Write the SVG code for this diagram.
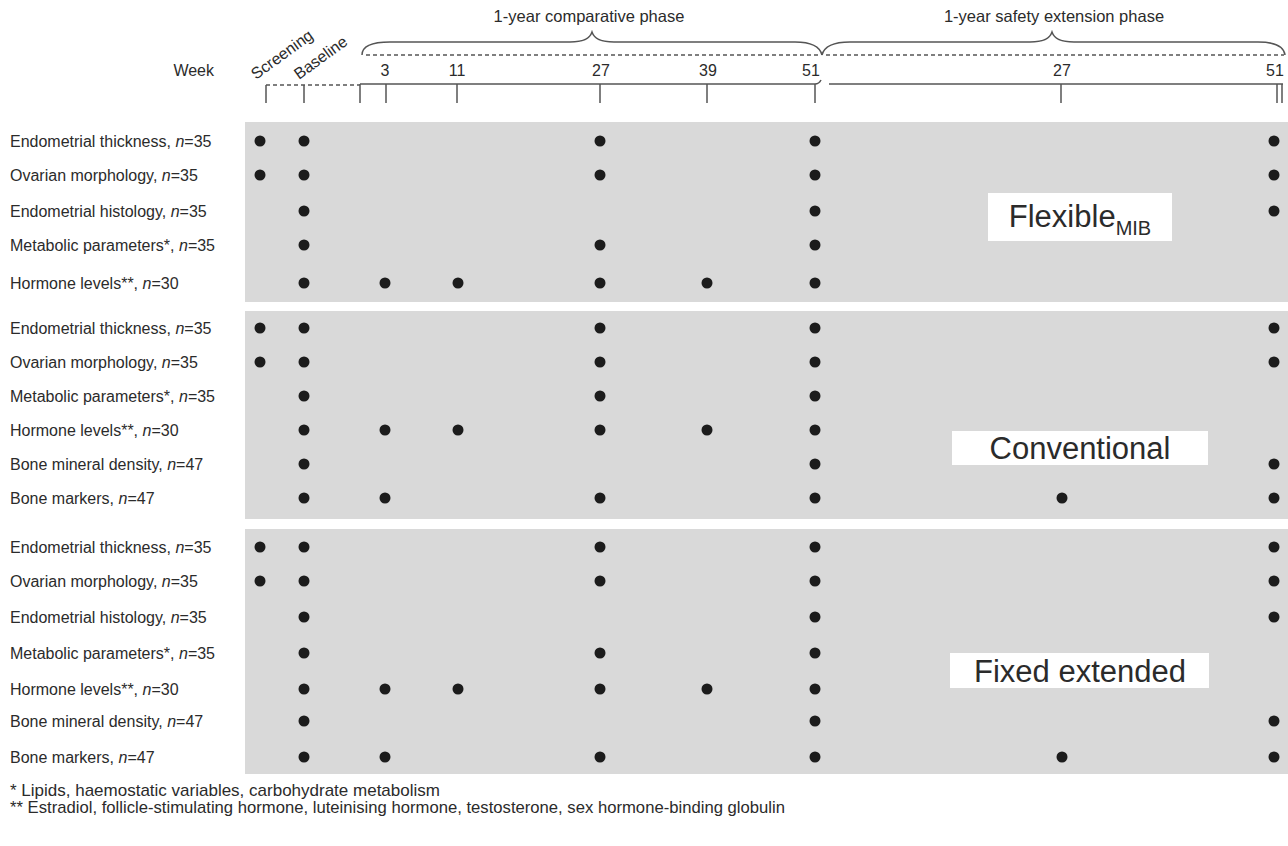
<svg xmlns="http://www.w3.org/2000/svg" width="1288" height="846" viewBox="0 0 1288 846">
<style>
text{font-family:"Liberation Sans",Arial,sans-serif;fill:#2b2b2b}
.lbl{font-size:16px}
.hdr{font-size:16.5px;text-anchor:middle}
.num{font-size:16px;text-anchor:middle}
.fn{font-size:17px}
.grp{font-size:31px;text-anchor:middle}
.panel{fill:#d9d9d9}
.box{fill:#ffffff}
.ax{stroke:#555;stroke-width:1.5;fill:none}
.dash{stroke:#555;stroke-width:1.5;fill:none;stroke-dasharray:4 3}
.dot{fill:#1c1c1c}
</style>
<defs><circle id="d" r="5.5" class="dot"/></defs>
<rect width="1288" height="846" fill="#ffffff"/>

<g id="timeline">
<text class="hdr" x="589" y="22">1-year comparative phase</text>
<text class="hdr" x="1054" y="22">1-year safety extension phase</text>
<path class="ax" d="M362,55 C362,46 372,42 390,42 L570,42 C585,42 590,38 592,32 C594,38 599,42 614,42 L795,42 C812,42 820,47 822,55"/>
<path class="ax" d="M822,55 C824,47 832,42 850,42 L1030,42 C1045,42 1050,38 1052,32 C1054,38 1059,42 1074,42 L1258,42 C1276,42 1284,47 1285,55"/>
<line class="dash" x1="366" y1="55" x2="820" y2="55"/>
<line class="dash" x1="826" y1="55" x2="1284" y2="55"/>
<text class="lbl" x="214" y="76" text-anchor="end">Week</text>
<text class="lbl" transform="translate(256,80) rotate(-36)">Screening</text>
<text class="lbl" transform="translate(299,80) rotate(-36)">Baseline</text>
<text class="num" x="385" y="76">3</text>
<text class="num" x="457" y="76">11</text>
<text class="num" x="601" y="76">27</text>
<text class="num" x="708" y="76">39</text>
<text class="num" x="811" y="76">51</text>
<text class="num" x="1062" y="76">27</text>
<text class="num" x="1275" y="76">51</text>
<line class="dash" x1="266" y1="85" x2="360" y2="85"/>
<path class="ax" d="M360,84 L815,84 C818,84 820,82 821,80"/>
<line class="ax" x1="829" y1="84" x2="1283" y2="84"/>
<path class="ax" d="M266,103 V85 M304,103 V85 M360,103 V84 M386,103 V84 M457,103 V84 M600,103 V84 M707,103 V84 M815,103 V84 M1061,103 V84 M1277,103 V84 M1282,103 V84"/>
</g>

<g id="panel-flexible">
<rect class="panel" x="245" y="122" width="1043" height="180"/>
<rect class="box" x="988" y="193" width="184" height="48"/>
<text class="grp" x="1080" y="227" font-size="29">Flexible<tspan font-size="20" dy="8">MIB</tspan></text>
<text class="lbl" x="10" y="147">Endometrial thickness, <tspan font-style="italic">n</tspan>=35</text>
<text class="lbl" x="10" y="181">Ovarian morphology, <tspan font-style="italic">n</tspan>=35</text>
<text class="lbl" x="10" y="217">Endometrial histology, <tspan font-style="italic">n</tspan>=35</text>
<text class="lbl" x="10" y="251">Metabolic parameters*, <tspan font-style="italic">n</tspan>=35</text>
<text class="lbl" x="10" y="289">Hormone levels**, <tspan font-style="italic">n</tspan>=30</text>
<use href="#d" x="260" y="141"/><use href="#d" x="304" y="141"/><use href="#d" x="600" y="141"/><use href="#d" x="815" y="141"/><use href="#d" x="1274" y="141"/>
<use href="#d" x="260" y="175"/><use href="#d" x="304" y="175"/><use href="#d" x="600" y="175"/><use href="#d" x="815" y="175"/><use href="#d" x="1274" y="175"/>
<use href="#d" x="304" y="211"/><use href="#d" x="815" y="211"/><use href="#d" x="1274" y="211"/>
<use href="#d" x="304" y="245"/><use href="#d" x="600" y="245"/><use href="#d" x="815" y="245"/>
<use href="#d" x="304" y="283"/><use href="#d" x="385" y="283"/><use href="#d" x="458" y="283"/><use href="#d" x="600" y="283"/><use href="#d" x="707" y="283"/><use href="#d" x="815" y="283"/>
</g>

<g id="panel-conventional">
<rect class="panel" x="245" y="311" width="1043" height="208"/>
<rect class="box" x="952" y="431" width="256" height="34"/>
<text class="grp" x="1080" y="459">Conventional</text>
<text class="lbl" x="10" y="334">Endometrial thickness, <tspan font-style="italic">n</tspan>=35</text>
<text class="lbl" x="10" y="368">Ovarian morphology, <tspan font-style="italic">n</tspan>=35</text>
<text class="lbl" x="10" y="402">Metabolic parameters*, <tspan font-style="italic">n</tspan>=35</text>
<text class="lbl" x="10" y="436">Hormone levels**, <tspan font-style="italic">n</tspan>=30</text>
<text class="lbl" x="10" y="470">Bone mineral density, <tspan font-style="italic">n</tspan>=47</text>
<text class="lbl" x="10" y="504">Bone markers, <tspan font-style="italic">n</tspan>=47</text>
<use href="#d" x="260" y="328"/><use href="#d" x="304" y="328"/><use href="#d" x="600" y="328"/><use href="#d" x="815" y="328"/><use href="#d" x="1274" y="328"/>
<use href="#d" x="260" y="362"/><use href="#d" x="304" y="362"/><use href="#d" x="600" y="362"/><use href="#d" x="815" y="362"/><use href="#d" x="1274" y="362"/>
<use href="#d" x="304" y="396"/><use href="#d" x="600" y="396"/><use href="#d" x="815" y="396"/>
<use href="#d" x="304" y="430"/><use href="#d" x="385" y="430"/><use href="#d" x="458" y="430"/><use href="#d" x="600" y="430"/><use href="#d" x="707" y="430"/><use href="#d" x="815" y="430"/>
<use href="#d" x="304" y="464"/><use href="#d" x="815" y="464"/><use href="#d" x="1274" y="464"/>
<use href="#d" x="304" y="498"/><use href="#d" x="385" y="498"/><use href="#d" x="600" y="498"/><use href="#d" x="815" y="498"/><use href="#d" x="1062" y="498"/><use href="#d" x="1274" y="498"/>
</g>

<g id="panel-fixed">
<rect class="panel" x="245" y="529" width="1043" height="245"/>
<rect class="box" x="950" y="653" width="259" height="35"/>
<text class="grp" x="1080" y="682">Fixed extended</text>
<text class="lbl" x="10" y="553">Endometrial thickness, <tspan font-style="italic">n</tspan>=35</text>
<text class="lbl" x="10" y="587">Ovarian morphology, <tspan font-style="italic">n</tspan>=35</text>
<text class="lbl" x="10" y="623">Endometrial histology, <tspan font-style="italic">n</tspan>=35</text>
<text class="lbl" x="10" y="659">Metabolic parameters*, <tspan font-style="italic">n</tspan>=35</text>
<text class="lbl" x="10" y="695">Hormone levels**, <tspan font-style="italic">n</tspan>=30</text>
<text class="lbl" x="10" y="727">Bone mineral density, <tspan font-style="italic">n</tspan>=47</text>
<text class="lbl" x="10" y="763">Bone markers, <tspan font-style="italic">n</tspan>=47</text>
<use href="#d" x="260" y="547"/><use href="#d" x="304" y="547"/><use href="#d" x="600" y="547"/><use href="#d" x="815" y="547"/><use href="#d" x="1274" y="547"/>
<use href="#d" x="260" y="581"/><use href="#d" x="304" y="581"/><use href="#d" x="600" y="581"/><use href="#d" x="815" y="581"/><use href="#d" x="1274" y="581"/>
<use href="#d" x="304" y="617"/><use href="#d" x="815" y="617"/><use href="#d" x="1274" y="617"/>
<use href="#d" x="304" y="653"/><use href="#d" x="600" y="653"/><use href="#d" x="815" y="653"/>
<use href="#d" x="304" y="689"/><use href="#d" x="385" y="689"/><use href="#d" x="458" y="689"/><use href="#d" x="600" y="689"/><use href="#d" x="707" y="689"/><use href="#d" x="815" y="689"/>
<use href="#d" x="304" y="721"/><use href="#d" x="815" y="721"/><use href="#d" x="1274" y="721"/>
<use href="#d" x="304" y="757"/><use href="#d" x="385" y="757"/><use href="#d" x="600" y="757"/><use href="#d" x="815" y="757"/><use href="#d" x="1062" y="757"/><use href="#d" x="1274" y="757"/>
</g>

<g id="footnotes">
<text class="fn" x="10" y="796">* Lipids, haemostatic variables, carbohydrate metabolism</text>
<text class="fn" x="10" y="813" textLength="775" lengthAdjust="spacingAndGlyphs">** Estradiol, follicle-stimulating hormone, luteinising hormone, testosterone, sex hormone-binding globulin</text>
</g>
</svg>
